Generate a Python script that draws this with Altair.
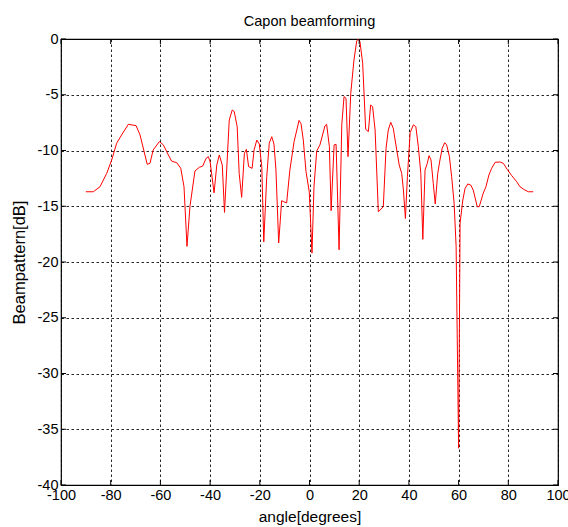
import altair as alt
import pandas as pd

# Capon beampattern samples: steering angle (degrees) and response (dB)
angles = [
    -90, -87, -84.3, -81.6, -79.6, -77.6, -75.6, -72.9, -69.8, -68.2,
    -65.3, -64.2, -62.9, -60.4, -58.8, -56.8, -55.5, -53.4, -51.8, -50.5,
    -49.3, -48.1, -46.1, -44.3, -43, -41.6, -40.7, -40.0, -38.4, -37.3,
    -36.3, -35.1, -34.2, -32.3, -31.1, -30.3, -29.1, -28.3, -27.3, -26.2,
    -25.4, -24.5, -23.1, -22.3, -21.2, -20.2, -19.2, -18.4, -17.2, -16.2,
    -15.2, -14.3, -13.5, -12.4, -11.2, -10.3, -9.2, -7.9, -6.2, -4.2,
    -3.4, -2.5, -1.4, -0.1, 1.0, 1.8, 2.9, 4.2, 6.2, 6.9,
    8.0, 8.7, 9.9, 10.7, 11.9, 13.0, 13.9, 14.7, 15.5, 16.6,
    17.9, 19.0, 19.6, 20.3, 21.4, 22.6, 23.7, 24.6, 25.4, 26.4,
    27.7, 29.7, 30.8, 31.7, 32.7, 33.7, 35.1, 36.1, 37.1, 37.8,
    38.6, 39.4, 40.5, 41.8, 42.8, 43.8, 44.8, 45.6, 46.5, 47.4,
    48.1, 48.9, 49.8, 50.6, 51.6, 52.5, 53.4, 54.4, 55.2, 56.3,
    57.2, 58.2, 59.0, 60.0, 60.6, 61.7, 62.6, 63.7, 64.9, 65.9,
    67.5, 68.3, 69.9, 71.0, 72.2, 73.3, 74.7, 76.7, 78.0, 79.6,
    81.4, 83.4, 84.7, 86.7, 88.1, 90,
]
pattern_db = [
    -13.7, -13.7, -13.25, -12.05, -10.85, -9.35, -8.6, -7.65, -7.77, -8.6,
    -11.24, -11.15, -9.95, -9.2, -9.5, -10.4, -10.95, -11.1, -11.6, -13.25,
    -18.6, -15.0, -11.84, -11.5, -11.4, -10.7, -10.55, -11.0, -13.8, -11.3,
    -10.4, -11.3, -15.55, -7.27, -6.37, -6.5, -7.86, -12.05, -14.2, -10.25,
    -9.9, -11.45, -11.6, -9.95, -9.06, -9.42, -11.45, -18.2, -12.35, -9.35,
    -8.76, -9.42, -11.75, -18.3, -14.5, -14.6, -14.7, -11.75, -9.2, -7.3,
    -7.6, -9.06, -11.9, -13.7, -19.2, -13.25, -10.05, -9.5, -7.8, -7.65,
    -9.66, -15.4, -9.5, -9.45, -18.9, -7.65, -5.17, -5.32, -10.55, -4.87,
    -1.88, -0.18, -0.03, -0.24, -2.18, -8.1, -8.3, -5.92, -6.07, -8.16,
    -15.5, -15.04, -9.8, -8.16, -7.47, -8.0, -9.95, -11.3, -12.05, -13.55,
    -16.1, -12.35, -8.4, -7.7, -7.86, -9.66, -12.05, -17.97, -11.75, -11.15,
    -10.46, -10.85, -12.94, -14.8, -12.05, -10.85, -9.8, -9.3, -9.5, -10.55,
    -12.35, -14.74, -18.6, -36.7, -16.5, -14.44, -13.4, -13.0, -13.1, -13.55,
    -15.04, -15.04, -13.84, -13.25, -12.2, -11.6, -11.06, -11.03, -11.15, -11.7,
    -12.26, -12.8, -13.25, -13.55, -13.7, -13.7,
]

x_ticks = list(range(-100, 101, 20))
y_ticks = list(range(-40, 1, 5))

W, H = 497, 446
FONT = "Liberation Sans"
TICK_LEN = 5

df = pd.DataFrame({"angle": angles, "db": pattern_db})
xt = pd.DataFrame({"v": x_ticks})
yt = pd.DataFrame({"v": y_ticks})

x_scale = alt.Scale(domain=[-100, 100], nice=False, zero=False)
y_scale = alt.Scale(domain=[-40, 0], nice=False, zero=False)

grid_dash = [2.5, 2.5]

x_axis = alt.Axis(
    values=x_ticks, labelExpr="datum.value + ''", grid=True, gridDash=grid_dash,
    gridColor="#000000", gridOpacity=0.85, gridWidth=1, domain=False, ticks=False,
    labelFont=FONT, labelFontSize=14.5, labelColor="#000000", labelPadding=3,
    title="angle[degrees]", titleFont=FONT, titleFontSize=15.5, titleFontWeight="normal",
    titleColor="#000000", titleY=36, titleBaseline="alphabetic", labelFlush=False,
)
y_axis = alt.Axis(
    values=y_ticks, labelExpr="datum.value + ''", grid=True, gridDash=grid_dash,
    gridColor="#000000", gridOpacity=0.85, gridWidth=1, domain=False, ticks=False,
    labelFont=FONT, labelFontSize=14.5, labelColor="#000000", labelPadding=3,
    title="Beampattern[dB]", titleFont=FONT, titleFontSize=16.5, titleFontWeight="normal",
    titleColor="#000000", titleX=-37, titleY=H / 2, titleBaseline="alphabetic",
    titleAngle=270, labelFlush=False,
)

curve = alt.Chart(df).mark_line(color="#ff0000", strokeWidth=1, interpolate="linear").encode(
    x=alt.X("angle:Q", scale=x_scale, axis=x_axis),
    y=alt.Y("db:Q", scale=y_scale, axis=y_axis),
)

# inward tick marks on all four sides of the box
tick_style = dict(color="#000000", strokeWidth=1)
bottom_ticks = alt.Chart(xt).mark_rule(**tick_style).encode(
    x=alt.X("v:Q", scale=x_scale), y=alt.value(H), y2=alt.value(H - TICK_LEN)
)
top_ticks = alt.Chart(xt).mark_rule(**tick_style).encode(
    x=alt.X("v:Q", scale=x_scale), y=alt.value(0), y2=alt.value(TICK_LEN)
)
left_ticks = alt.Chart(yt).mark_rule(**tick_style).encode(
    y=alt.Y("v:Q", scale=y_scale), x=alt.value(0), x2=alt.value(TICK_LEN)
)
right_ticks = alt.Chart(yt).mark_rule(**tick_style).encode(
    y=alt.Y("v:Q", scale=y_scale), x=alt.value(W), x2=alt.value(W - TICK_LEN)
)

chart = alt.layer(curve, bottom_ticks, top_ticks, left_ticks, right_ticks).properties(
    width=W,
    height=H,
    title=alt.TitleParams(
        "Capon beamforming", font=FONT, fontSize=14.5, fontWeight="normal",
        color="#000000", anchor="middle", frame="group", offset=13, baseline="alphabetic",
        dy=22,
    ),
    autosize=alt.AutoSizeParams(type="none"),
    padding={"left": 61, "top": 39, "right": 10, "bottom": 42},
    background="#ffffff",
).configure_view(
    stroke="#000000", strokeWidth=1.2
)

chart.save("out.html", embed_options={"renderer": "svg", "actions": False})
